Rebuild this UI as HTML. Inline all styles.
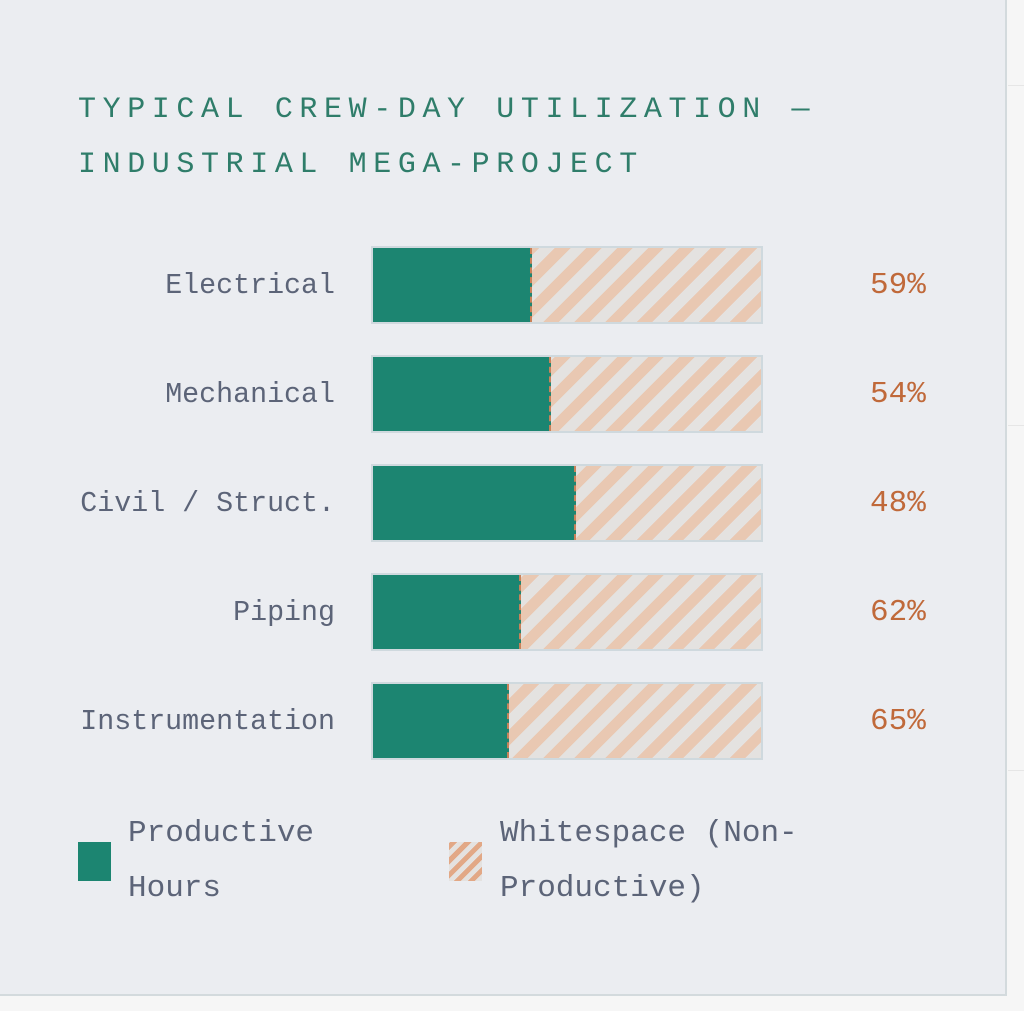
<!DOCTYPE html>
<html><head><meta charset="utf-8"><style>
body{margin:0;width:1024px;height:1011px;background:#f6f6f6;position:relative;overflow:hidden;font-family:"Liberation Mono","DejaVu Sans Mono",monospace;}
.grid{position:absolute;background:#e6e6e6}
.card{position:absolute;left:0;top:0;width:1005px;height:994px;background:#ebedf1;border-right:2px solid #d3dadd;border-bottom:2px solid #d3dadd;}
.t{position:absolute;left:78px;font-size:30px;letter-spacing:6.6px;color:#2f7d6a;white-space:nowrap;line-height:1}
.lab{position:absolute;right:689px;font-size:28.3px;color:#5c6478;white-space:nowrap;line-height:1}
.pct{position:absolute;left:870px;font-size:31px;color:#c0693a;line-height:1}
.bar{position:absolute;left:371px;width:388px;height:74px;border:2px solid #cfd9de;background:repeating-linear-gradient(-45deg,#e4e2e0 0 11px,#e9c8b2 11px 22px);}
.g{position:absolute;left:0;top:0;height:74px;background:#1c8571;border-right:2px dashed #c9825a}
.leg{position:absolute;font-size:31px;color:#5c6478;line-height:55px;white-space:nowrap}
</style></head><body>
<div class="grid" style="left:1008px;top:85px;width:16px;height:1px"></div>
<div class="grid" style="left:1008px;top:425px;width:16px;height:1px"></div>
<div class="grid" style="left:1008px;top:770px;width:16px;height:1px"></div>
<div class="card"></div>
<div class="t" style="top:95px">TYPICAL CREW-DAY UTILIZATION —</div>
<div class="t" style="top:150px">INDUSTRIAL MEGA-PROJECT</div>

<div class="lab" style="top:272px">Electrical</div>
<div class="bar" style="top:246px"><div class="g" style="width:157px"></div></div>
<div class="pct" style="top:270px">59%</div>

<div class="lab" style="top:381px">Mechanical</div>
<div class="bar" style="top:355px"><div class="g" style="width:176px"></div></div>
<div class="pct" style="top:379px">54%</div>

<div class="lab" style="top:490px">Civil / Struct.</div>
<div class="bar" style="top:464px"><div class="g" style="width:201px"></div></div>
<div class="pct" style="top:488px">48%</div>

<div class="lab" style="top:599px">Piping</div>
<div class="bar" style="top:573px"><div class="g" style="width:146px"></div></div>
<div class="pct" style="top:597px">62%</div>

<div class="lab" style="top:708px">Instrumentation</div>
<div class="bar" style="top:682px"><div class="g" style="width:134px"></div></div>
<div class="pct" style="top:706px">65%</div>

<div style="position:absolute;left:78px;top:842px;width:33px;height:39px;background:#1c8571"></div>
<div class="leg" style="left:128px;top:806px">Productive<br>Hours</div>
<div style="position:absolute;left:449px;top:842px;width:33px;height:39px;background:repeating-linear-gradient(-45deg,#e4e2e0 0 5px,#e2a886 5px 10px)"></div>
<div class="leg" style="left:500px;top:806px">Whitespace (Non-<br>Productive)</div>
</body></html>
